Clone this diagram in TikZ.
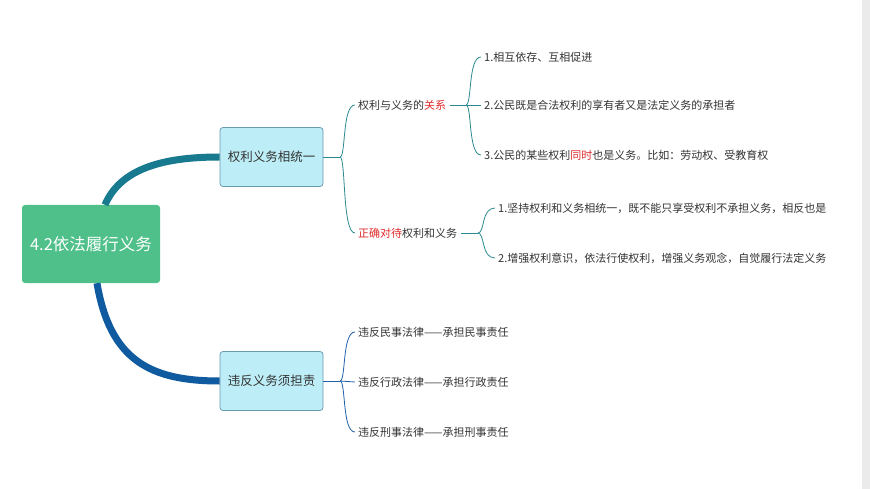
\documentclass[tikz,border=0pt]{standalone}
\usepackage{fontspec}
\setmainfont{Noto Sans CJK SC}
\begin{document}
\begin{tikzpicture}[x=1pt,y=-1pt,
  root/.style={fill=rootg,rounded corners=3pt,minimum width=138pt,minimum height=78pt,inner sep=2pt,text=white,font=\fontsize{16.5}{20}\selectfont},
  l1/.style={fill=lcyan,draw=lborder,line width=0.8pt,rounded corners=3pt,minimum width=103pt,minimum height=59pt,inner sep=2pt,font=\fontsize{12.5}{15}\selectfont,text=txt},
  leaf/.style={anchor=west,inner sep=1pt,font=\fontsize{11}{14}\selectfont,text=txt},
  br/.style={draw=brc,line width=0.8pt},
  brb/.style={draw=brblue,line width=0.8pt}]
\definecolor{rootg}{HTML}{4FC08A}
\definecolor{lcyan}{HTML}{BDEDF6}
\definecolor{lborder}{HTML}{6A9AB0}
\definecolor{txt}{HTML}{333333}
\definecolor{brc}{HTML}{2A8A90}
\definecolor{brblue}{HTML}{2060A8}
\definecolor{hl}{HTML}{E02A2A}
\definecolor{c1}{RGB}{24,122,142}
\definecolor{c2}{RGB}{16,90,160}
\useasboundingbox (0,0) rectangle (870,489);
\fill[white] (0,0) rectangle (870,489);
\fill[black!8] (862,0) rectangle (870,489);
\node[root] (r) at (91,244) {4.2依法履行义务};
\node[l1] (a) at (271.5,157) {权利义务相统一};
\node[l1] (b) at (271.5,381) {违反义务须担责};
\draw[line width=7pt,draw=c1] ([xshift=14pt]r.north) .. controls (120,170) and (160,157) .. (a.west);
\draw[line width=7pt,draw=c2] ([xshift=6pt]r.south) .. controls (110,360) and (150,381) .. (b.west);
% level 2
\node[leaf] (a1) at (357,105) {权利与义务的\textcolor{hl}{关系}};
\node[leaf] (a2) at (357,233) {\textcolor{hl}{正确对待}权利和义务};
\coordinate (ja) at (340,157);
\draw[br] (a.east) -- (ja);
\draw[br] (ja) .. controls (346,157) and (342,105) .. ([xshift=-2pt]a1.west);
\draw[br] (ja) .. controls (346,157) and (342,233) .. ([xshift=-2pt]a2.west);
% a1 children
\node[leaf] (a11) at (483,57) {1.相互依存、互相促进};
\node[leaf] (a12) at (483,105) {2.公民既是合法权利的享有者又是法定义务的承担者};
\node[leaf] (a13) at (483,155) {3.公民的某些权利\textcolor{hl}{同时}也是义务。比如：劳动权、受教育权};
\coordinate (j1) at (466,105);
\draw[br] ([xshift=3pt]a1.east) -- (j1);
\draw[br] (j1) .. controls (472,105) and (468,57) .. ([xshift=-2pt]a11.west);
\draw[br] (j1) -- ([xshift=-2pt]a12.west);
\draw[br] (j1) .. controls (472,105) and (468,155) .. ([xshift=-2pt]a13.west);
% a2 children
\node[leaf] (a21) at (497,208) {1.坚持权利和义务相统一，既不能只享受权利不承担义务，相反也是};
\node[leaf] (a22) at (497,258) {2.增强权利意识，依法行使权利，增强义务观念，自觉履行法定义务};
\coordinate (j2) at (478,233);
\draw[br] ([xshift=3pt]a2.east) -- (j2);
\draw[br] (j2) .. controls (485,233) and (481,208) .. ([xshift=-2pt]a21.west);
\draw[br] (j2) .. controls (485,233) and (481,258) .. ([xshift=-2pt]a22.west);
% b children
\node[leaf] (b1) at (357,332) {违反民事法律——承担民事责任};
\node[leaf] (b2) at (357,382) {违反行政法律——承担行政责任};
\node[leaf] (b3) at (357,432) {违反刑事法律——承担刑事责任};
\coordinate (jb) at (340,381);
\draw[brb] (b.east) -- (jb);
\draw[brb] (jb) .. controls (346,381) and (342,332) .. ([xshift=-2pt]b1.west);
\draw[brb] (jb) -- ([xshift=-2pt]b2.west);
\draw[brb] (jb) .. controls (346,381) and (342,432) .. ([xshift=-2pt]b3.west);
\end{tikzpicture}
\end{document}
